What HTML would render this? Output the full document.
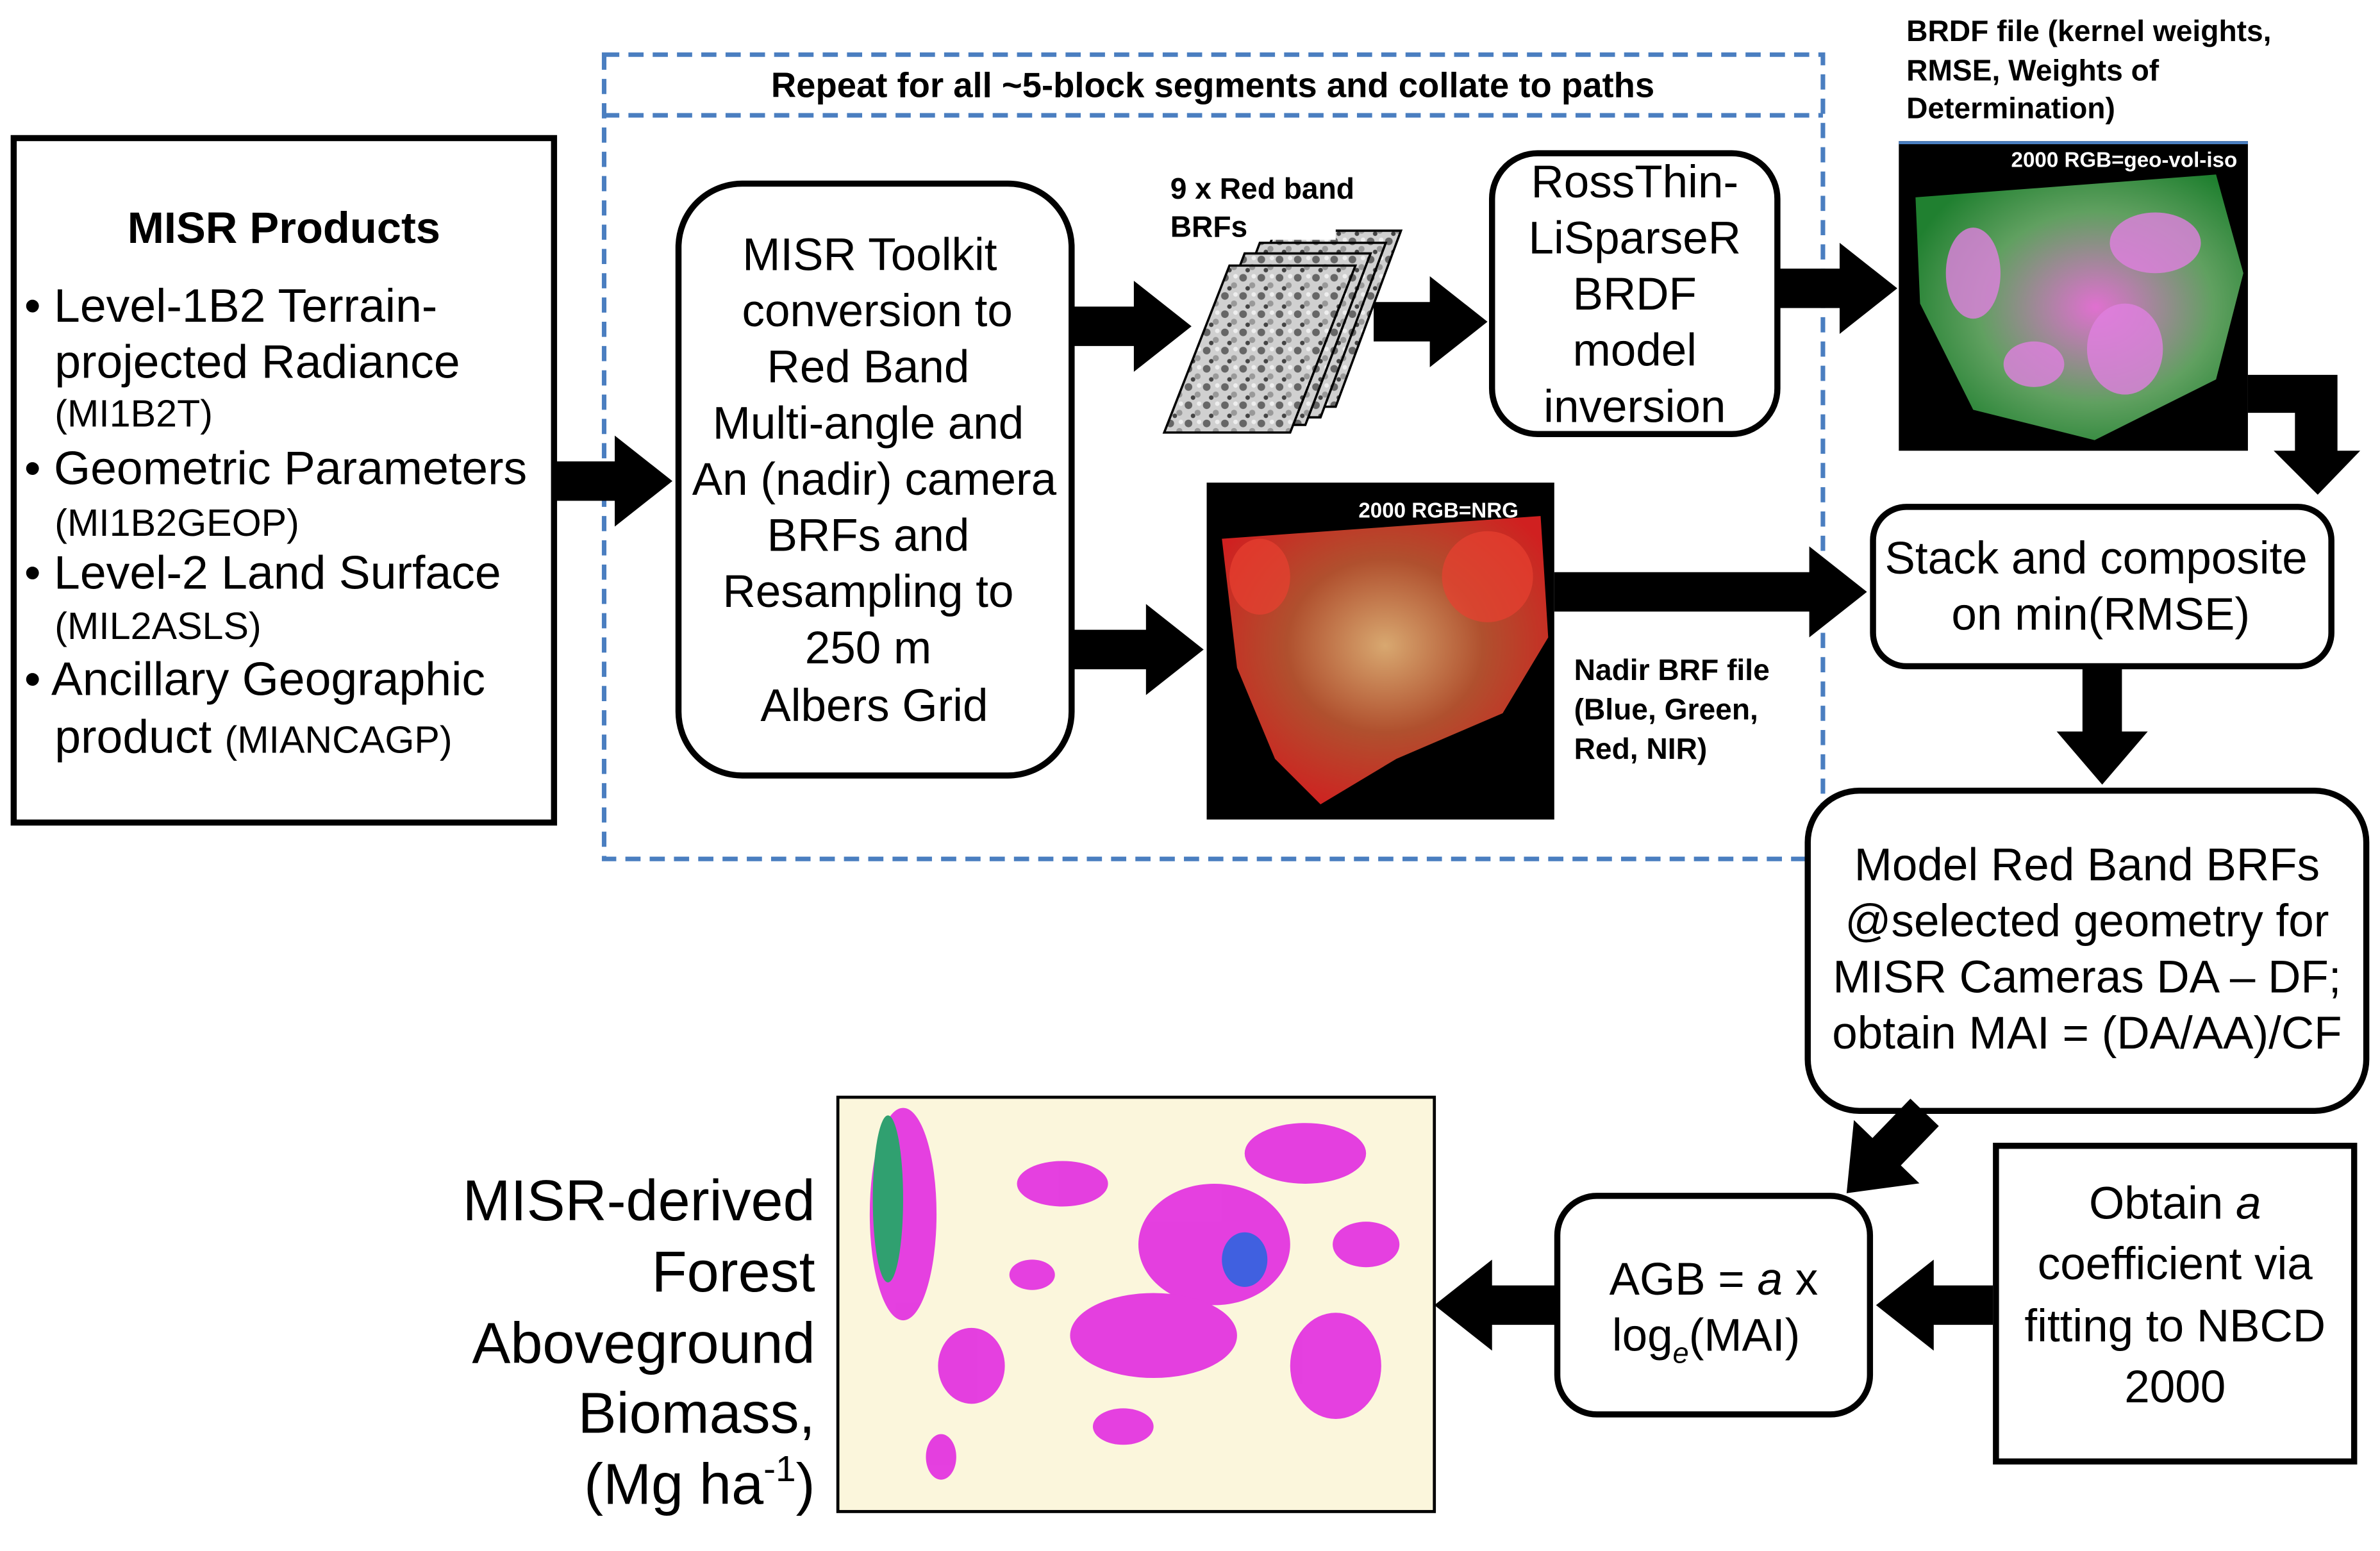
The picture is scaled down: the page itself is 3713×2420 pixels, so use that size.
<!DOCTYPE html>
<html><head><meta charset="utf-8"><style>
html,body{margin:0;padding:0;background:#fff;}
svg{display:block;}
text{font-family:"Liberation Sans",sans-serif;fill:#000;}
</style></head><body>
<svg width="3713" height="2420" viewBox="0 0 1568 1022" xmlns="http://www.w3.org/2000/svg">
<defs>
<pattern id="noise" width="12" height="12" patternUnits="userSpaceOnUse">
<rect width="12" height="12" fill="#d0d0d0"/>
<circle cx="3" cy="3" r="2.5" fill="#666"/><circle cx="9" cy="8" r="2" fill="#999"/><circle cx="6" cy="10" r="1.5" fill="#444"/><circle cx="10" cy="2" r="1.5" fill="#eee"/>
</pattern>
<radialGradient id="nrg" cx="50%" cy="45%" r="60%"><stop offset="0" stop-color="#d8a870"/><stop offset="0.5" stop-color="#b0502e"/><stop offset="1" stop-color="#d02020"/></radialGradient>
<radialGradient id="brdf" cx="55%" cy="50%" r="60%"><stop offset="0" stop-color="#e070d0"/><stop offset="0.6" stop-color="#60a060"/><stop offset="1" stop-color="#208030"/></radialGradient>
</defs>

<!-- MISR Products box -->
<rect x="9" y="91" width="356" height="451" fill="#fff" stroke="#000" stroke-width="4"/>
<text x="187" y="160" font-size="29" font-weight="bold" text-anchor="middle">MISR Products</text>
<g font-size="31">
<text x="16" y="212">• Level-1B2 Terrain-</text>
<text x="36" y="249">projected Radiance</text>
<text x="36" y="281" font-size="25">(MI1B2T)</text>
<text x="16" y="319">• Geometric Parameters</text>
<text x="36" y="353" font-size="25">(MI1B2GEOP)</text>
<text x="16" y="388">• Level-2 Land Surface</text>
<text x="36" y="421" font-size="25">(MIL2ASLS)</text>
<text x="16" y="458">• Ancillary Geographic</text>
<text x="36" y="496">product <tspan font-size="25">(MIANCAGP)</tspan></text>
</g>

<!-- dashed box -->
<rect x="398" y="36" width="803" height="530" fill="none" stroke="#4a7ec0" stroke-width="3" stroke-dasharray="10,6"/>
<line x1="398" y1="76" x2="1201" y2="76" stroke="#4a7ec0" stroke-width="3" stroke-dasharray="10,6"/>
<text x="799" y="64" font-size="23" font-weight="bold" text-anchor="middle">Repeat for all ~5-block segments and collate to paths</text>

<!-- toolkit box -->
<rect x="447" y="121" width="259" height="390" rx="42" fill="#fff" stroke="#000" stroke-width="4"/>
<g font-size="30" text-anchor="middle">
<text x="573" y="178">MISR Toolkit</text>
<text x="578" y="215">conversion to</text>
<text x="572" y="252">Red Band</text>
<text x="572" y="289">Multi-angle and</text>
<text x="576" y="326">An (nadir) camera</text>
<text x="572" y="363">BRFs and</text>
<text x="572" y="400">Resampling to</text>
<text x="572" y="437">250 m</text>
<text x="576" y="475">Albers Grid</text>
</g>

<!-- stacked images -->
<g stroke="#000" stroke-width="1.5">
<polygon points="840,152 923,152 880,268 797,268" fill="url(#noise)"/>
<polygon points="830,160 913,160 870,275 787,275" fill="url(#noise)"/>
<polygon points="820,167 903,167 860,280 777,280" fill="url(#noise)"/>
<polygon points="810,175 893,175 850,285 767,285" fill="url(#noise)"/>
</g>
<rect x="770" y="113" width="110" height="45" fill="#fff"/>
<text x="771" y="131" font-size="19.5" font-weight="bold">9 x Red band</text>
<text x="771" y="156" font-size="19.5" font-weight="bold">BRFs</text>

<!-- Ross box -->
<rect x="983" y="101" width="188" height="185" rx="30" fill="#fff" stroke="#000" stroke-width="4"/>
<g font-size="30" text-anchor="middle">
<text x="1077" y="130">RossThin-</text>
<text x="1077" y="167">LiSparseR</text>
<text x="1077" y="204">BRDF</text>
<text x="1077" y="241">model</text>
<text x="1077" y="278">inversion</text>
</g>

<!-- BRDF image -->
<g font-size="19.5" font-weight="bold">
<text x="1256" y="27">BRDF file (kernel weights,</text>
<text x="1256" y="53">RMSE, Weights of</text>
<text x="1256" y="78">Determination)</text>
</g>
<rect x="1251" y="93" width="230" height="204" fill="#000"/>
<line x1="1251" y1="94" x2="1481" y2="94" stroke="#4a7ec0" stroke-width="2"/>
<path d="M1262,130 L1460,115 L1478,180 L1460,250 L1380,290 L1300,270 L1265,200 Z" fill="url(#brdf)"/>
<g fill="#e080e0" opacity="0.8">
<ellipse cx="1300" cy="180" rx="18" ry="30"/><ellipse cx="1420" cy="160" rx="30" ry="20"/><ellipse cx="1400" cy="230" rx="25" ry="30"/><ellipse cx="1340" cy="240" rx="20" ry="15"/>
</g>
<text x="1325" y="110" font-size="14" font-weight="bold" style="fill:#fff">2000 RGB=geo-vol-iso</text>

<!-- NRG image -->
<rect x="795" y="318" width="229" height="222" fill="#000"/>
<path d="M805,355 L1015,340 L1020,420 L990,470 L920,500 L870,530 L840,500 L815,440 Z" fill="url(#nrg)"/>
<g fill="#e84030" opacity="0.7"><ellipse cx="980" cy="380" rx="30" ry="30"/><ellipse cx="830" cy="380" rx="20" ry="25"/></g>
<text x="895" y="341" font-size="14" font-weight="bold" style="fill:#fff">2000 RGB=NRG</text>
<g font-size="19.5" font-weight="bold">
<text x="1037" y="448">Nadir BRF file</text>
<text x="1037" y="474">(Blue, Green,</text>
<text x="1037" y="500">Red, NIR)</text>
</g>

<!-- Stack box -->
<rect x="1234" y="334" width="302" height="105" rx="22" fill="#fff" stroke="#000" stroke-width="4"/>
<text x="1381" y="378" font-size="30" text-anchor="middle">Stack and composite</text>
<text x="1384" y="415" font-size="30" text-anchor="middle">on min(RMSE)</text>

<!-- Model box -->
<rect x="1191" y="521" width="368" height="211" rx="34" fill="#fff" stroke="#000" stroke-width="4"/>
<g font-size="30" text-anchor="middle">
<text x="1375" y="580">Model Red Band BRFs</text>
<text x="1375" y="617">@selected geometry for</text>
<text x="1375" y="654">MISR Cameras DA – DF;</text>
<text x="1375" y="691">obtain MAI = (DA/AA)/CF</text>
</g>

<!-- AGB box -->
<rect x="1026" y="788" width="206" height="144" rx="26" fill="#fff" stroke="#000" stroke-width="4"/>
<text x="1129" y="853" font-size="30" text-anchor="middle">AGB = <tspan font-style="italic">a</tspan> x</text>
<text x="1124" y="890" font-size="30" text-anchor="middle">log<tspan font-size="19" font-style="italic" dy="8">e</tspan><tspan dy="-8">(MAI)</tspan></text>

<!-- Obtain box -->
<rect x="1315" y="755" width="236" height="208" fill="#fff" stroke="#000" stroke-width="4"/>
<g font-size="30" text-anchor="middle">
<text x="1433" y="803">Obtain <tspan font-style="italic">a</tspan></text>
<text x="1433" y="843">coefficient via</text>
<text x="1433" y="884">fitting to NBCD</text>
<text x="1433" y="924">2000</text>
</g>

<!-- Map -->
<rect x="552" y="723" width="393" height="273" fill="#fbf6dc" stroke="#000" stroke-width="2"/>
<g fill="#e020e0" opacity="0.85">
<ellipse cx="595" cy="800" rx="22" ry="70"/>
<ellipse cx="800" cy="820" rx="50" ry="40"/>
<ellipse cx="760" cy="880" rx="55" ry="28"/>
<ellipse cx="860" cy="760" rx="40" ry="20"/>
<ellipse cx="700" cy="780" rx="30" ry="15"/>
<ellipse cx="880" cy="900" rx="30" ry="35"/>
<ellipse cx="640" cy="900" rx="22" ry="25"/>
<ellipse cx="900" cy="820" rx="22" ry="15"/>
<ellipse cx="680" cy="840" rx="15" ry="10"/>
<ellipse cx="740" cy="940" rx="20" ry="12"/>
<ellipse cx="620" cy="960" rx="10" ry="15"/>
</g>
<ellipse cx="585" cy="790" rx="10" ry="55" fill="#30a070"/>
<ellipse cx="820" cy="830" rx="15" ry="18" fill="#4060e0"/>
<text x="537" y="804" font-size="38" text-anchor="end">MISR-derived</text>
<text x="537" y="851" font-size="38" text-anchor="end">Forest</text>
<text x="537" y="898" font-size="38" text-anchor="end">Aboveground</text>
<text x="537" y="944" font-size="38" text-anchor="end">Biomass,</text>
<text x="537" y="991" font-size="38" text-anchor="end">(Mg ha<tspan font-size="24" dy="-15">-1</tspan><tspan dy="15">)</tspan></text>

<!-- Arrows -->
<g fill="#000">
<polygon points="365,304 405,304 405,287 443,317 405,347 405,330 365,330"/>
<polygon points="707,202 747,202 747,185 785,215 747,245 747,228 707,228"/>
<polygon points="905,199 942,199 942,182 980,212 942,242 942,225 905,225"/>
<polygon points="707,415 755,415 755,398 793,428 755,458 755,441 707,441"/>
<polygon points="1172,177 1212,177 1212,160 1250,190 1212,220 1212,203 1172,203"/>
<polygon points="1024,377 1192,377 1192,360 1230,390 1192,420 1192,403 1024,403"/>
<polygon points="1313,847 1274,847 1274,830 1236,860 1274,890 1274,873 1313,873"/>
<polygon points="1025,847 983,847 983,830 945,860 983,890 983,873 1025,873"/>
<polygon points="1372,440 1398,440 1398,482 1415,482 1385,517 1355,482 1372,482"/>
<polygon points="1481,247 1540,247 1540,297 1555,297 1527,326 1498,297 1512,297 1512,272 1481,272"/>
<g transform="translate(1268,733) rotate(134)">
<polygon points="0,-13 36,-13 36,-30 74,0 36,30 36,13 0,13"/>
</g>
</g>
</svg>
</body></html>
